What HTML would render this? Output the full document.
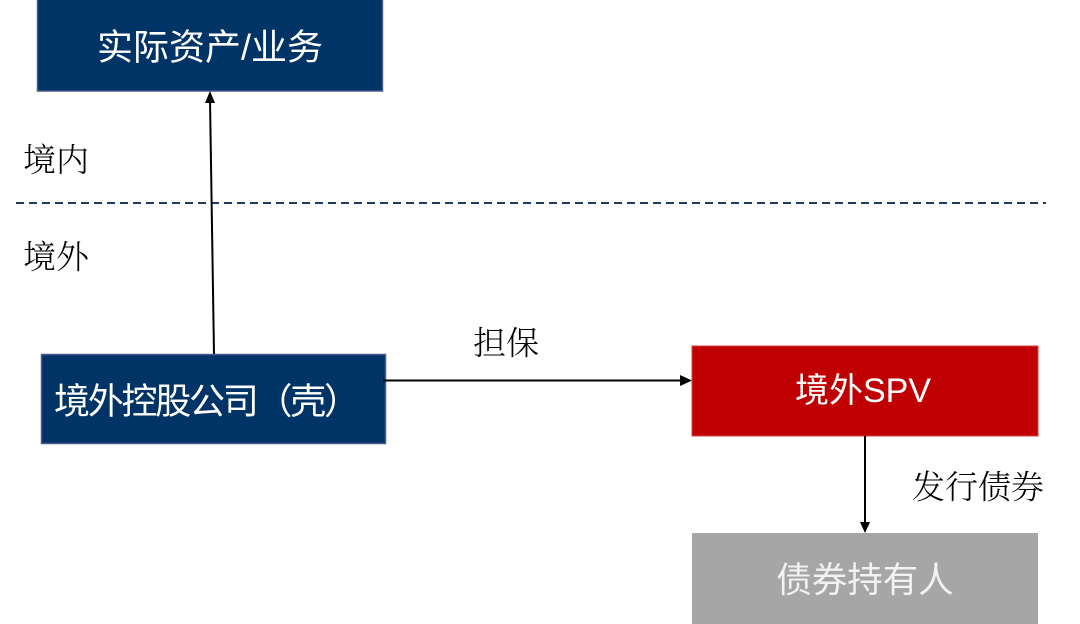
<!DOCTYPE html>
<html><head><meta charset="utf-8"><style>
html,body{margin:0;padding:0;background:#fff;}
svg{display:block;}
.lbl{font-family:"Noto Serif CJK SC","Noto Serif CJK",serif;font-size:33px;font-weight:300;fill:#000;}
.bx{font-family:"Liberation Sans","Noto Sans CJK SC",sans-serif;font-size:36px;fill:#fff;}
</style></head><body>
<svg width="1080" height="624" viewBox="0 0 1080 624" xmlns="http://www.w3.org/2000/svg">
<rect x="37.5" y="-1" width="345" height="92" fill="#003366" stroke="#4a5a8a" stroke-width="1.5"/>
<text class="bx" x="210" y="47" text-anchor="middle" dominant-baseline="central">实际资产/业务</text>

<line x1="16" y1="203" x2="1046" y2="203" stroke="#1f3864" stroke-width="2" stroke-dasharray="8 5"/>

<text class="lbl" x="23" y="158" dominant-baseline="central">境内</text>
<text class="lbl" x="23" y="255" dominant-baseline="central">境外</text>

<line x1="210" y1="100" x2="214" y2="354" stroke="#000" stroke-width="2"/>
<polygon points="210,91 205,103 215,103" fill="#000"/>

<rect x="41.5" y="354.5" width="344" height="89" fill="#003366" stroke="#4a5a8a" stroke-width="1.5"/>
<text class="bx" x="54" y="401" dominant-baseline="central" textLength="306" lengthAdjust="spacing">境外控股公司（壳）</text>

<line x1="383" y1="380.5" x2="682" y2="380.5" stroke="#000" stroke-width="2"/>
<polygon points="692,380.5 680,375 680,386" fill="#000"/>
<text class="lbl" x="473" y="341" dominant-baseline="central">担保</text>

<rect x="692" y="346" width="346" height="90" fill="#c00000" stroke="#d04040" stroke-width="1"/>
<text class="bx" x="863" y="391" text-anchor="middle" dominant-baseline="central" style="font-size:34px">境外SPV</text>

<line x1="865" y1="436" x2="865" y2="524" stroke="#000" stroke-width="2"/>
<polygon points="865,533 860,522 870,522" fill="#000"/>
<text class="lbl" x="912" y="485" dominant-baseline="central">发行债券</text>

<rect x="692" y="533" width="346" height="95" fill="#a6a6a6"/>
<text class="bx" x="865" y="580" text-anchor="middle" dominant-baseline="central" style="fill:#f2f2f2;font-size:35.5px">债券持有人</text>
</svg>
</body></html>
